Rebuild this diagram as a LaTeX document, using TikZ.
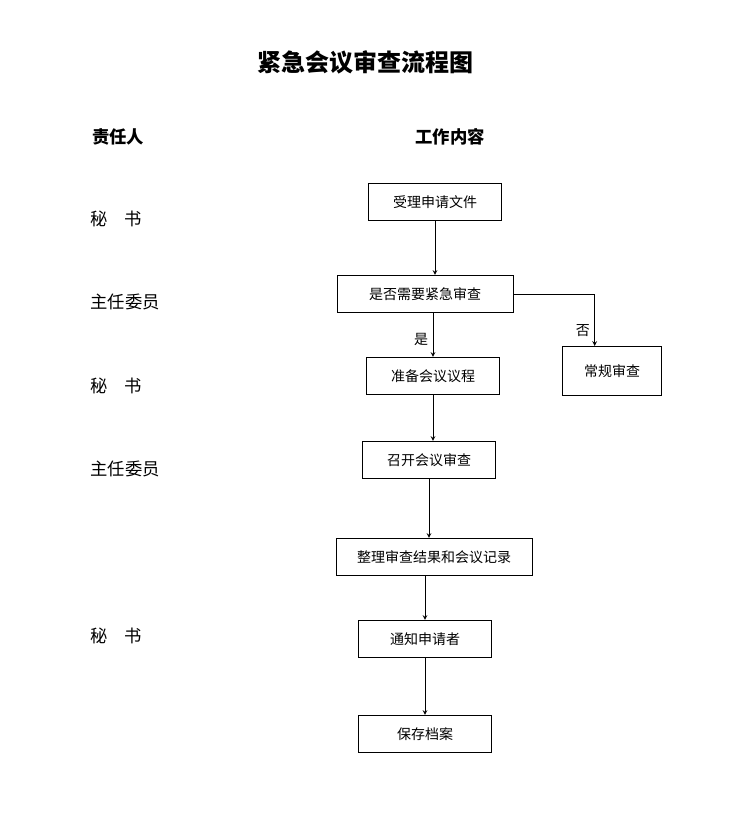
\documentclass[tikz,border=0pt]{standalone}
\usepackage{fontspec}
\setmainfont{Noto Sans CJK SC}
\usetikzlibrary{positioning}
\tikzset{
  stepbox/.style={draw, line width=0.6pt, minimum height=28pt, font=\fontsize{10.5}{12}\selectfont},
  arr/.style={->, >=stealth, line width=0.6pt},
  role/.style={font=\fontsize{13}{15}\selectfont},
}
\begin{document}
\begin{tikzpicture}[x=0.75pt,y=-0.75pt]
  \useasboundingbox (0,0) rectangle (734,823);
  % title and headings
  \node (title) at (365,62) {\fontsize{18}{20}\selectfont\bfseries 紧急会议审查流程图};
  \node [role] (hrole) at (118,137) {\bfseries 责任人};
  \node [role] (hwork) at (450,137) {\bfseries 工作内容};
  % roles
  \node [role] (r1) at (116,219) {秘\quad 书};
  \node [role] (r2) at (125,302) {主任委员};
  \node [role] (r3) at (116,386) {秘\quad 书};
  \node [role] (r4) at (125,469) {主任委员};
  \node [role] (r5) at (116,636) {秘\quad 书};
  % steps
  \node [stepbox, minimum width=100pt] (recv) at (435,202) {受理申请文件};
  \node [stepbox, minimum width=132pt] (judge) at (425,294) {是否需要紧急审查};
  \node [stepbox, minimum width=74pt, minimum height=37pt] (normal) at (612,371) {常规审查};
  \node [stepbox, minimum width=100pt] (agenda) at (433,376) {准备会议议程};
  \node [stepbox, minimum width=100pt] (meet) at (429,460) {召开会议审查};
  \node [stepbox, minimum width=147pt] (sort) at (434,557) {整理审查结果和会议记录};
  \node [stepbox, minimum width=100pt] (notify) at (425,639) {通知申请者};
  \node [stepbox, minimum width=100pt] (archive) at (425,734) {保存档案};
  % connectors
  \draw [arr] (recv.south) -- (recv.south |- judge.north);
  \draw [arr] (judge.south -| agenda.north) -- node [left, pos=0.6, font=\fontsize{10.5}{12}\selectfont] {是} (agenda.north);
  \draw [arr] (judge.east) -| node [left, pos=0.85, font=\fontsize{10.5}{12}\selectfont] {否} ([xshift=-13pt]normal.north);
  \draw [arr] (agenda.south) -- (agenda.south |- meet.north);
  \draw [arr] (meet.south) -- (meet.south |- sort.north);
  \draw [arr] (notify.north |- sort.south) -- (notify.north);
  \draw [arr] (notify.south) -- (archive.north);
\end{tikzpicture}
\end{document}
